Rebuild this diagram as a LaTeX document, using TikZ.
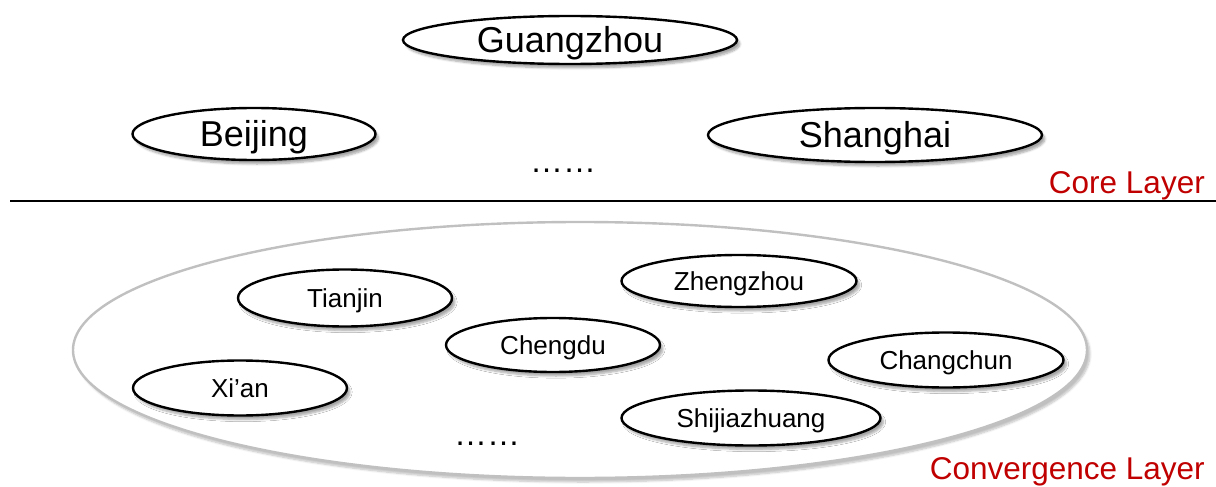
\documentclass[tikz,border=0pt]{standalone}
\usepackage{fontspec}
\setmainfont{Liberation Sans}
\usetikzlibrary{shapes.geometric,shadows.blur}
\definecolor{layerred}{RGB}{192,0,0}
\definecolor{ringgray}{RGB}{192,192,192}
\tikzset{
  city/.style={ellipse, draw=black, line width=2.4pt, fill=white, inner sep=0pt, text depth=0pt,
    blur shadow={shadow xshift=3pt, shadow yshift=-4pt, shadow blur steps=6, shadow opacity=35}},
  bigcity/.style={city, text height=25.8pt, font=\fontsize{36}{40}\selectfont},
  smallcity/.style={city, text height=18.6pt, font=\fontsize{26}{30}\selectfont},
  layerlabel/.style={anchor=east, text=layerred, inner sep=0pt, text height=22.6pt, text depth=0pt,
    font=\fontsize{31.5}{34}\selectfont},
  dots/.style={inner sep=0pt, font=\fontsize{33}{36}\selectfont},
}
\begin{document}
\begin{tikzpicture}[x=1pt,y=-1pt]
\useasboundingbox (0,0) rectangle (1216,487);
% core layer
\node[bigcity, minimum width=334pt, minimum height=48pt] (gz) at (570,40) {Guangzhou};
\node[bigcity, minimum width=243pt, minimum height=52pt] (bj) at (254,134) {Beijing};
\node[bigcity, minimum width=334pt, minimum height=54pt] (sh) at (875,135) {Shanghai};
\node[dots] (cdots) at (563,171) {……};
\node[layerlabel] (core) at (1205,182) {Core Layer};
\coordinate (lineL) at (10,201);
\coordinate (lineR) at (1216,201);
\draw[line width=1.5pt] (lineL) -- (lineR);
% convergence layer
\node[ellipse, draw=ringgray, fill=white, line width=2.4pt, minimum width=1014pt, minimum height=256pt, inner sep=0pt,
  blur shadow={shadow xshift=3pt, shadow yshift=-4pt, shadow blur steps=6, shadow opacity=25}] (ring) at (580,350) {};
\node[smallcity, minimum width=214pt, minimum height=57pt] (tj) at (345,298) {Tianjin};
\node[smallcity, minimum width=235pt, minimum height=52pt] (zz) at (739,281) {Zhengzhou};
\node[smallcity, minimum width=214pt, minimum height=54pt] (cd) at (553,345) {Chengdu};
\node[smallcity, minimum width=235pt, minimum height=55pt] (cc) at (946,360) {Changchun};
\node[smallcity, minimum width=214pt, minimum height=55pt] (xa) at (240,388) {Xi’an};
\node[smallcity, minimum width=259pt, minimum height=55pt] (sj) at (751,418) {Shijiazhuang};
\node[dots] (ldots) at (487,444) {……};
\node[layerlabel] (conv) at (1205,468) {Convergence Layer};
\end{tikzpicture}
\end{document}
